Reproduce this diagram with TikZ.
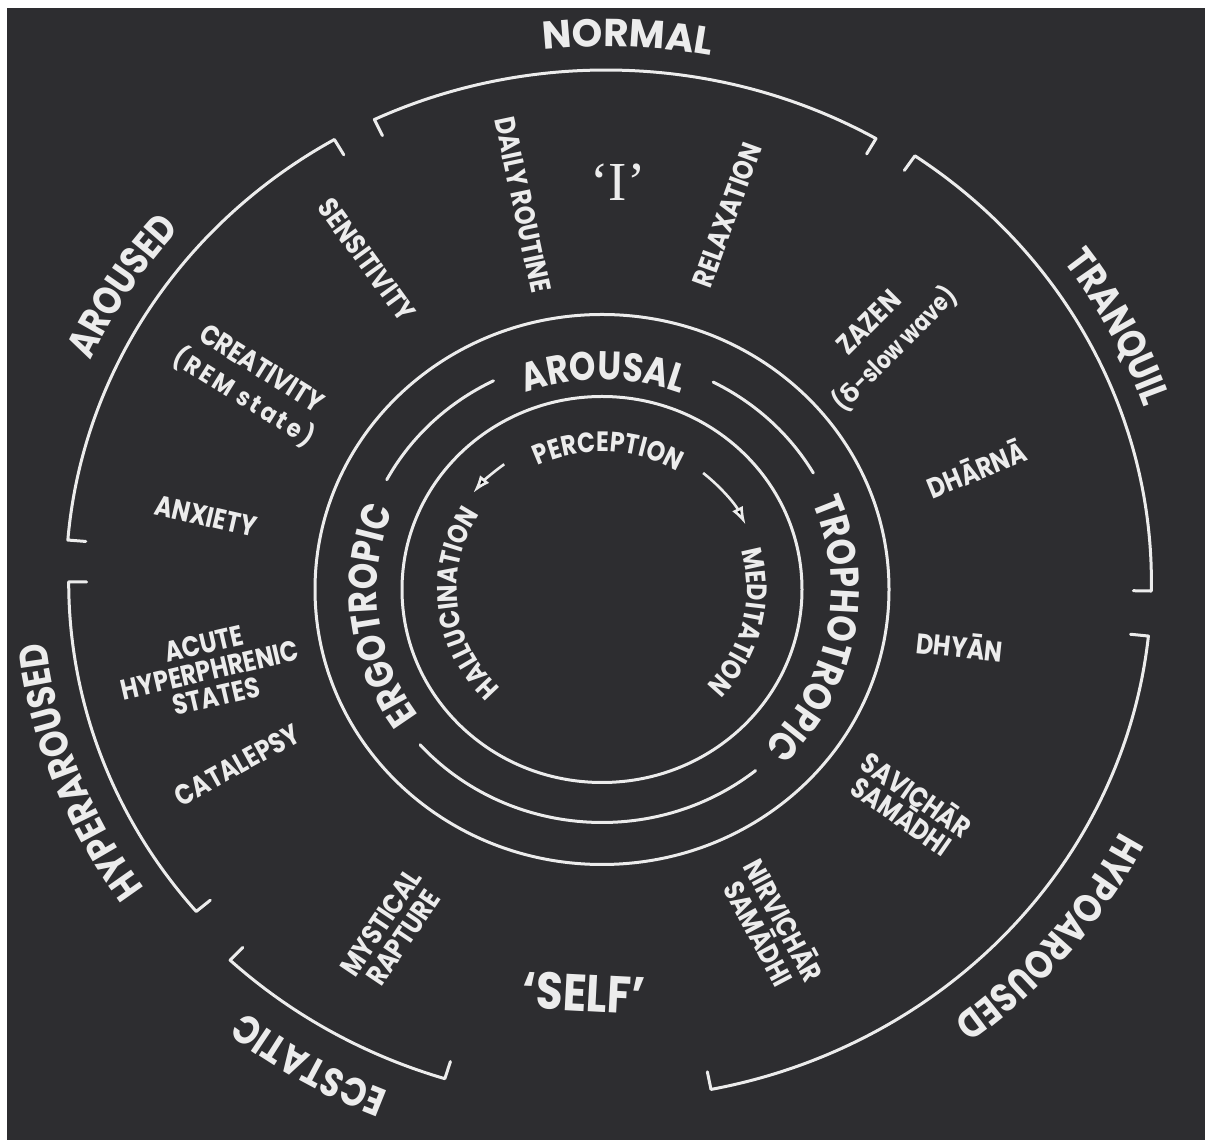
\documentclass[tikz,border=0pt]{standalone}
\usepackage{fontspec}
\setmainfont{Poppins}
\newfontfamily\cnd{Poppins}[FakeStretch=0.84]
\newfontfamily\cndls{Poppins}[FakeStretch=0.9,LetterSpace=12]
\newfontfamily\serifI{Liberation Serif}
\newfontfamily\grk{DejaVu Sans}
\usetikzlibrary{decorations.text,arrows.meta,calc}
\definecolor{bg}{RGB}{45,45,48}
\definecolor{fg}{RGB}{236,236,236}
\newcommand\bigfnt{\cnd\bfseries\fontsize{40}{46}\selectfont}
\newcommand\normfnt{\bfseries\fontsize{39}{46}\selectfont}
\newcommand\midfnt{\cnd\bfseries\fontsize{40}{46}\selectfont}
\newcommand\innfnt{\cnd\bfseries\fontsize{28}{32}\selectfont}
\newcommand\smfnt{\cnd\bfseries\fontsize{28.5}{32}\selectfont}
\newcommand\smsk[1]{\cnd\bfseries\fontsize{28.5}{#1}\selectfont}
% text on a clockwise elliptic arc: center, a, b, t centre, half span, font, text
\newcommand\arctext[7]{%
  \path[decorate,decoration={text along path,text align=center,text color=fg,text={|#6|#7}}]
    ($(#1)+({#4+#5}:#2 and #3)$) arc[start angle={#4+#5}, end angle={#4-#5}, x radius=#2, y radius=#3];}
% bracket: name, t start, t end, scale
\newcommand\bracket[4]{%
  \coordinate (#1a) at ($(O)+(#2:{540pt*#4} and {512pt*#4})$);
  \coordinate (#1b) at ($(O)+(#3:{540pt*#4} and {512pt*#4})$);
  \draw[ring] ($(#1a)!18pt!(O)$) -- (#1a) arc[start angle=#2, end angle=#3, x radius={540pt*#4}, y radius={512pt*#4}] -- ($(#1b)!18pt!(O)$);}
\begin{document}
\begin{tikzpicture}[x=1pt,y=1pt,
  ring/.style={draw=fg,line width=3pt,line cap=round,line join=round},
  lbl/.style={text=fg,font=\smfnt,align=center,inner sep=0pt},
  arr/.style={draw=fg,line width=2.6pt,-{Latex[length=18pt,width=12pt]}}]
\fill[white] (0,0) rectangle (1205,1140);
\fill[bg] (7,0) rectangle (1205,1132);
\useasboundingbox (0,0) rectangle (1205,1140);
\coordinate (O) at (606,558);
\coordinate (C) at (602,550.5);
% central rings
\draw[ring] (C) ellipse [x radius=287pt, y radius=275pt];
\draw[ring] (C) ellipse [x radius=200pt, y radius=193pt];
\draw[ring] ($(C)+(116.4:244pt and 233pt)$) arc[start angle=116.4, end angle=151.9, x radius=244pt, y radius=233pt];
\draw[ring] ($(C)+(221.8:244pt and 233pt)$) arc[start angle=221.8, end angle=309, x radius=244pt, y radius=233pt];
\draw[ring] ($(C)+(30:244pt and 233pt)$) arc[start angle=30, end angle=62.9, x radius=244pt, y radius=233pt];
\arctext{C}{219pt}{210pt}{89.65}{40}{\midfnt}{AROUSAL}
\arctext{C}{225pt}{216pt}{186.85}{50}{\midfnt}{ERGOTROPIC}
\arctext{C}{229pt}{220pt}{-10.8}{55}{\midfnt}{TROPHOTROPIC}
% inner ring texts and arrows
\arctext{C}{145pt}{138pt}{87.5}{50}{\innfnt}{PERCEPTION}
\arctext{C}{145pt}{138pt}{186.3}{60}{\innfnt}{HALLUCINATION}
\arctext{C}{145pt}{138pt}{-13.5}{50}{\innfnt}{MEDITATION}
\coordinate (la) at ($(C)+(126.6:164pt and 156pt)$);
\coordinate (ra) at ($(C)+(50.5:159pt and 151pt)$);
\draw[arr] (la) arc[start angle=126.6, end angle=141.8, x radius=164pt, y radius=156pt];
\draw[arr] (ra) arc[start angle=50.5, end angle=25.4, x radius=159pt, y radius=151pt];
% outer brackets
\bracket{nor}{60}{115.4}{1.0}
\bracket{aro}{120.2}{175.3}{1.0}
\bracket{hyr}{180}{220.3}{0.995}
\bracket{ecs}{226.7}{252.9}{1.015}
\bracket{hyo}{281.1}{354}{1.01}
\bracket{tra}{359}{415.5}{1.01}
% outer labels
\arctext{O}{565pt}{535.6pt}{87.8}{30}{\normfnt}{NORMAL}
\arctext{O}{568.8pt}{539.2pt}{27.4}{30}{\bigfnt}{TRANQUIL}
\arctext{O}{578pt}{548pt}{-39.5}{40}{\bigfnt}{HYPOAROUSED}
\arctext{O}{579.6pt}{549.4pt}{239.4}{30}{\bigfnt}{ECSTATIC}
\arctext{O}{563.4pt}{534pt}{200.4}{40}{\bigfnt}{HYPERAROUSED}
\arctext{O}{566pt}{536.6pt}{147.6}{30}{\bigfnt}{AROUSED}
% radial labels
\node[lbl,rotate=-78] (daily) at (523,935) {DAILY ROUTINE};
\node[lbl,rotate=70] (relax) at (727,925) {RELAXATION};
\node[text=fg,font=\serifI\fontsize{55}{55}\selectfont,inner sep=0pt] (ego) at (618,958) {‘I’};
\node[lbl,rotate=-54] (sens) at (367,880) {SENSITIVITY};
\node[lbl,rotate=-32,font=\smsk{33}] (crea) at (252,756) {CREATIVITY\\{\cndls\bfseries\fontsize{25}{33}\selectfont(REM state)}};
\node[lbl,rotate=-13] (anx) at (206,624) {ANXIETY};
\node[lbl,rotate=13,font=\smsk{27}] (acute) at (210,470) {ACUTE\\HYPERPHRENIC\\STATES};
\node[lbl,rotate=29] (cata) at (237,375) {CATALEPSY};
\node[lbl,rotate=56,font=\smsk{27}] (myst) at (392,210) {MYSTICAL\\RAPTURE};
\node[text=fg,font=\cnd\bfseries\fontsize{52}{56}\selectfont,inner sep=0pt,rotate=-3] (self) at (584,147) {‘SELF’};
\node[lbl,rotate=-62,font=\smsk{28}] (nirv) at (773,214) {NIRVICHĀR\\SAMĀDHI};
\node[lbl,rotate=-35,font=\smsk{26}] (savi) at (910,336) {SAVICHĀR\\SAMĀDHI};
\node[lbl,rotate=-6] (dhyan) at (960,495) {DHYĀN};
\node[lbl,rotate=22] (dharna) at (976,672) {DHĀRNĀ};
\node[lbl,rotate=45,font=\smsk{36}] (zazen) at (883,803) {ZAZEN\\{\cnd\bfseries\fontsize{25}{36}\selectfont({\grk\bfseries δ}-slow wave)}};
\end{tikzpicture}
\end{document}
